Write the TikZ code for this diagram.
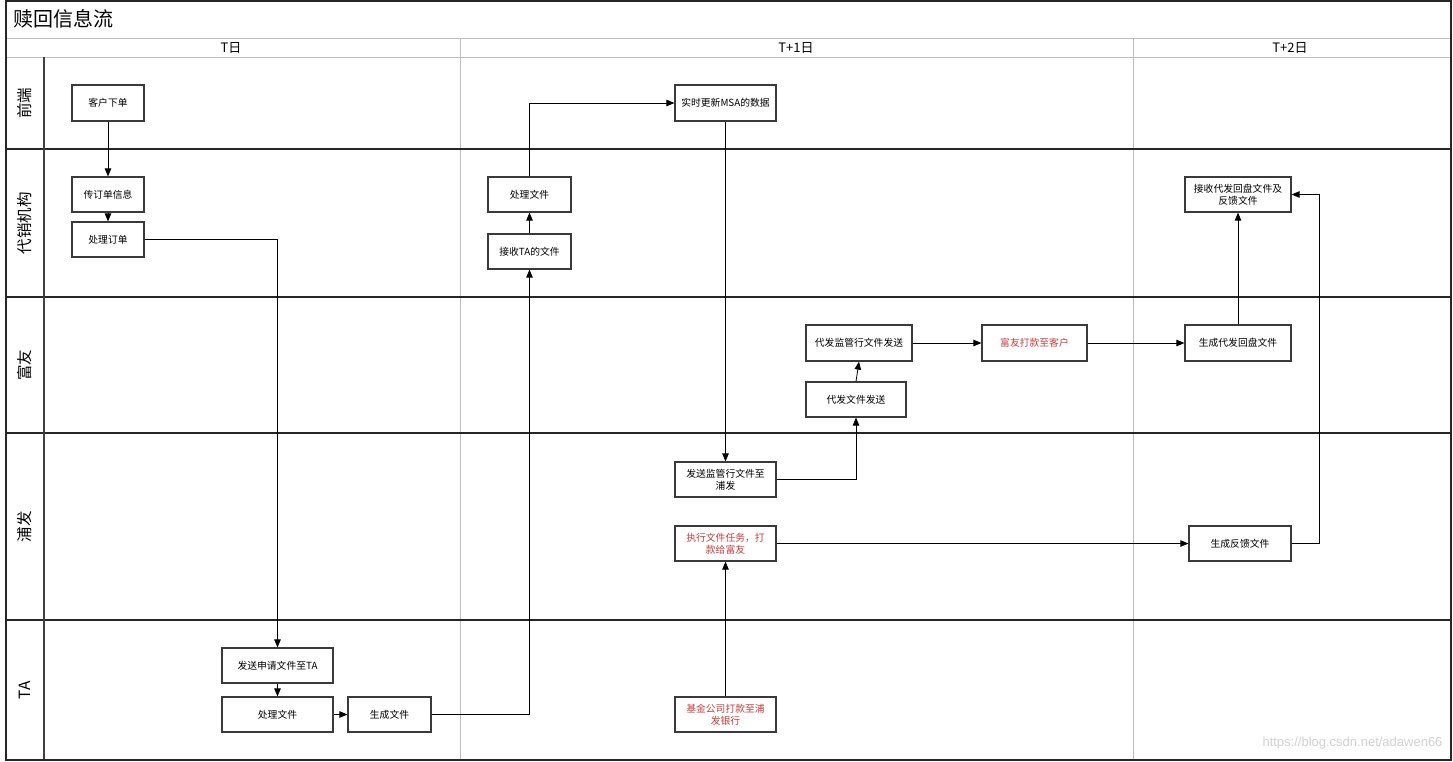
\documentclass[tikz,border=0pt]{standalone}
\usepackage{fontspec}
\setmainfont{Liberation Sans}
\newfontfamily\cjk{Noto Sans CJK SC}
\usetikzlibrary{arrows.meta}
\definecolor{redtxt}{HTML}{C83C3C}
\definecolor{gridgray}{HTML}{BDBDBD}
\definecolor{boxgray}{HTML}{3A3A3A}
\tikzset{
  box/.style={draw=boxgray, line width=1.2pt, fill=white, inner sep=1pt, align=center,
    font=\cjk\fontsize{9.8}{12.5}\selectfont},
  redbox/.style={box, text=redtxt},
  arr/.style={draw=black, line width=0.8pt, -{Triangle[length=8pt,width=6.5pt]}},
  lanelabel/.style={rotate=90, font=\cjk\fontsize{15.5}{18}\selectfont},
  colhead/.style={font=\cjk\fontsize{13}{15}\selectfont},
  laneline/.style={draw=black!85, line width=1.4pt},
  gridline/.style={draw=gridgray, line width=1pt}
}
\begin{document}
\begin{tikzpicture}[x=1pt,y=-1pt]
\useasboundingbox (0,0) rectangle (1453,761);
\fill[white] (0,0) rectangle (1453,761);
% grid lines
\draw[gridline] (6,38) -- (1451,38);
\draw[gridline] (6,57) -- (1451,57);
\draw[gridline] (460,38) -- (460,760);
\draw[gridline] (1133,38) -- (1133,760);
% lane lines
\draw[laneline] (6,149) -- (1451,149);
\draw[laneline] (6,297) -- (1451,297);
\draw[laneline] (6,433) -- (1451,433);
\draw[laneline] (6,620) -- (1451,620);
\draw[draw=black!75, line width=1.2pt] (44,57) -- (44,760);
% outer frame
\draw[draw=black!85, line width=1.4pt] (6,1) rectangle (1451,760);
% title and headers
\node[anchor=west, font=\cjk\fontsize{20}{24}\selectfont] (title) at (10,19) {赎回信息流};
\node[colhead] (h1) at (231,48) {T日};
\node[colhead] (h2) at (796,48) {T+1日};
\node[colhead] (h3) at (1290,48) {T+2日};
% lane labels
\node[lanelabel] (l1) at (25,103) {前端};
\node[lanelabel] (l2) at (25,223) {代销机构};
\node[lanelabel] (l3) at (25,365) {富友};
\node[lanelabel] (l4) at (25,526.5) {浦发};
\node[lanelabel] (l5) at (25,690) {TA};
% nodes
\node[box, minimum width=72pt, minimum height=36pt] (n1) at (108,103) {客户下单};
\node[box, minimum width=72pt, minimum height=35pt] (n2) at (108,194.5) {传订单信息};
\node[box, minimum width=72pt, minimum height=35pt] (n3) at (108,239.5) {处理订单};
\node[box, minimum width=111pt, minimum height=35pt] (n4) at (277.5,665.5) {发送申请文件至TA};
\node[box, minimum width=111pt, minimum height=35pt] (n5) at (277.5,714.5) {处理文件};
\node[box, minimum width=83pt, minimum height=35pt] (n6) at (389.5,714.5) {生成文件};
\node[box, minimum width=83pt, minimum height=35pt] (n7) at (529.5,251.5) {接收TA的文件};
\node[box, minimum width=83pt, minimum height=35pt] (n8) at (529.5,194.5) {处理文件};
\node[box, minimum width=101pt, minimum height=36pt] (n9) at (725.5,103) {实时更新MSA的数据};
\node[box, minimum width=101pt, minimum height=35pt] (n10) at (725.5,479.5) {发送监管行文件至\\浦发};
\node[redbox, minimum width=101pt, minimum height=35pt] (n11) at (725.5,543.5) {执行文件任务，打\\款给富友};
\node[redbox, minimum width=101pt, minimum height=35pt] (n12) at (725.5,714.5) {基金公司打款至浦\\发银行};
\node[box, minimum width=100pt, minimum height=35pt] (n13) at (856,399.5) {代发文件发送};
\node[box, minimum width=106pt, minimum height=36pt] (n14) at (859,343) {代发监管行文件发送};
\node[redbox, minimum width=105pt, minimum height=36pt] (n15) at (1034.5,343) {富友打款至客户};
\node[box, minimum width=106pt, minimum height=36pt] (n16) at (1238,343) {生成代发回盘文件};
\node[box, minimum width=106pt, minimum height=35pt] (n17) at (1238,194.5) {接收代发回盘文件及\\反馈文件};
\node[box, minimum width=102pt, minimum height=35pt] (n18) at (1240,543.5) {生成反馈文件};
\coordinate (c1) at (1319,543.5);
% connectors
\draw[arr] (n1) -- (n2);
\draw[arr] (n2) -- (n3);
\draw[arr] (n3.east) -| (n4.north);
\draw[arr] (n4) -- (n5);
\draw[arr] (n5) -- (n6);
\draw[arr] (n6.east) -| (n7.south);
\draw[arr] (n7) -- (n8);
\draw[arr] (n8.north) |- (n9.west);
\draw[arr] (n9.south) -- (n10.north);
\draw[arr] (n10.east) -| (n13.south);
\draw[arr] (n13.north) -- (n14.south);
\draw[arr] (n14) -- (n15);
\draw[arr] (n15) -- (n16);
\draw[arr] (n16) -- (n17);
\draw[arr] (n11) -- (n18);
\draw[arr] (n18.east) -- (c1) |- (n17.east);
\draw[arr] (n12) -- (n11);
% watermark
\node[anchor=east, text=black!18, font=\fontsize{13}{15}\selectfont] (wm) at (1446,743) {https://blog.csdn.net/adawen66};
\end{tikzpicture}
\end{document}
